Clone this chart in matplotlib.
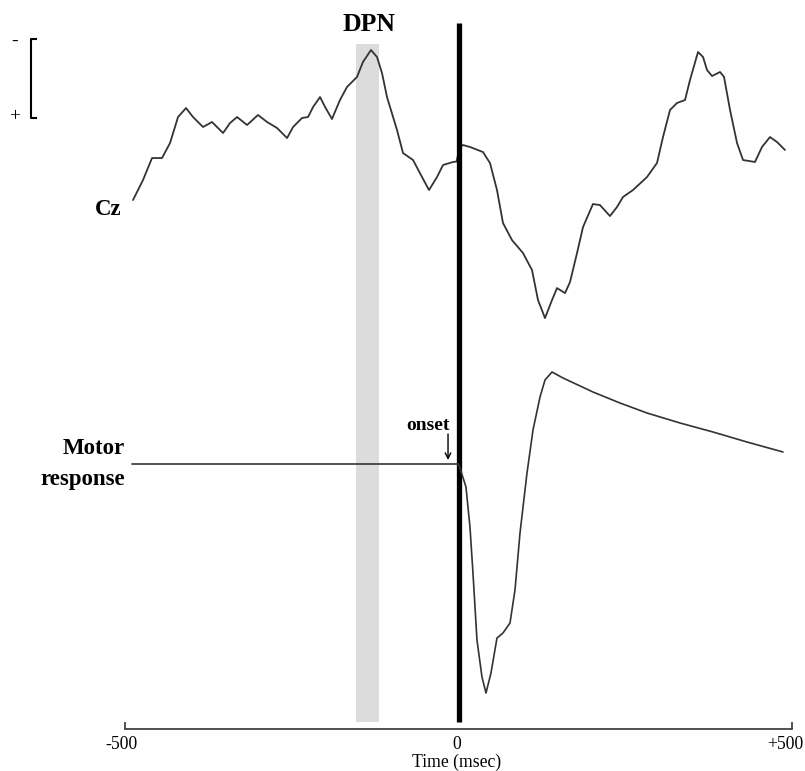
import matplotlib
matplotlib.use("Agg")
import matplotlib.pyplot as plt
from matplotlib.transforms import blended_transform_factory, ScaledTranslation

plt.rcParams['font.family'] = ['Liberation Serif', 'DejaVu Serif']

# ---- data ----
# Cz ERP: time (ms), amplitude (µV, negative plotted up)
cz_time = [-488, -473, -459.5, -444.5, -432.5, -420.5, -408.5, -398, -383, -369.6,
           -353, -342.6, -332, -317, -300.6, -287, -272, -257, -248, -234.6,
           -225.6, -218, -207.6, -200, -189.7, -177.7, -167.2, -152.2, -143.2, -131.2,
           -122.2, -114.7, -107.2, -92.2, -83.2, -68.2, -54.7, -44.2, -32.2, -23.2,
           -8.2, -3, 2, 6.7, 17.2, 36.7, 47.2, 57.7, 66.7, 80.2,
           96.7, 110.2, 119.2, 129.7, 140.2, 147.7, 159.7, 167.2, 177.7, 186.7,
           201.6, 212.1, 227.1, 237.6, 246.6, 261.6, 282.6, 297.6, 306.6, 317.1,
           327.6, 339.6, 347.1, 359.1, 366.6, 372.6, 380.1, 392.1, 398.1, 407.1,
           417.6, 426.6, 444.5, 455, 467, 477.5, 489.5]
cz_uv = [5.06, 2.53, -0.25, -0.25, -2.15, -5.44, -6.58, -5.44, -4.18, -4.81,
         -3.42, -4.68, -5.44, -4.43, -5.70, -4.81, -4.05, -2.78, -4.18, -5.32,
         -5.44, -6.71, -7.97, -6.71, -5.19, -7.59, -9.24, -10.51, -12.41, -13.92,
         -13.04, -11.01, -7.97, -3.80, -0.89, 0.0, 2.15, 3.80, 2.15, 0.63,
         0.25, 0.2, -1.6, -1.90, -1.65, -1.01, 0.38, 3.80, 7.97, 10.13,
         11.77, 13.92, 17.72, 20.0, 17.72, 16.20, 16.84, 15.44, 11.77, 8.48,
         5.57, 5.70, 7.09, 5.95, 4.68, 3.80, 2.15, 0.38, -2.91, -6.33,
         -7.22, -7.59, -10.13, -13.67, -13.04, -11.39, -10.63, -11.14, -10.51, -6.33,
         -2.15, 0.0, 0.25, -1.65, -2.91, -2.28, -1.27]

# Motor response (EMG, arbitrary units)
mr_time = [-489.5, 0, 2.2, 11.2, 17.2, 21.7, 27.7, 35.2, 41.2, 48.7,
           57.7, 66.7, 77.2, 84.7, 92.2, 102.7, 111.7, 122.2, 129.7, 140.2,
           156.7, 201.6, 242.1, 282.6, 332.1, 381.6, 432.5, 486.5]
mr_val = [0, 0, -0.4, -2.3, -6.3, -10.9, -17.6, -21.3, -22.9, -20.9,
          -17.4, -16.9, -15.9, -12.6, -6.9, -0.9, 3.4, 6.7, 8.4, 9.2,
          8.6, 7.2, 6.1, 5.1, 4.1, 3.2, 2.2, 1.2]

dpn_window = [-153.7, -119.2]
x_ticks = [-500, 0, 500]
x_ticklabels = ['-500', '0', '+500']
scale_bar_uv = [-15.3, -5.3]

# ---- figure ----
W, H = 805, 771
fig = plt.figure(figsize=(W / 100, H / 100), dpi=100)
ax = fig.add_axes([125 / W, 42 / H, 667 / W, 729 / H])
ax.set_xlim(-500, 500)
ax.set_ylim(72.0, -20.25)   # negative up
ax.patch.set_visible(False)
for s in ['top', 'left', 'right']:
    ax.spines[s].set_visible(False)
ax.spines['bottom'].set_color('#333333')
ax.spines['bottom'].set_linewidth(1.2)
ax.set_yticks([])
ax.set_xticks(x_ticks)
ax.set_xticklabels(x_ticklabels, fontsize=12.7)
ax.tick_params(axis='x', direction='in', length=5, width=1.2, color='#333333', pad=5)
ax.xaxis.get_major_ticks()[1].tick1line.set_visible(False)
labels = ax.get_xticklabels()
shifts = [-4, -2, -7]
for lab, dx in zip(labels, shifts):
    lab.set_transform(lab.get_transform() + ScaledTranslation(dx / 100, 0, fig.dpi_scale_trans))

bot = 7 / 729
ax.axvspan(dpn_window[0], dpn_window[1], ymin=bot, ymax=(729 - 44) / 729,
           color='#dcdcdc', lw=0, zorder=0)
ax.axvline(0, ymin=bot, ymax=(729 - 23) / 729, color='black', lw=3.8, zorder=5,
           solid_capstyle='butt')

ax.plot(cz_time, cz_uv, color='#333333', lw=1.3, zorder=3,
        solid_joinstyle='round', solid_capstyle='round')

ax2 = ax.twinx()
ax2.set_ylim(-26.5, 46.4)
ax2.axis('off')
ax2.plot(mr_time, mr_val, color='#333333', lw=1.2, zorder=3,
         solid_joinstyle='round', solid_capstyle='round')

# labels
bold = dict(fontweight='bold', color='black')
ax.text(-134.2, -17.1, 'DPN', fontsize=18.5, ha='center', va='center', **bold)
ax.text(-504.5, 6.2, 'Cz', fontsize=16.5, ha='right', va='center', clip_on=False, **bold)
ax2.text(-500, 1.5, 'Motor', fontsize=16.5, ha='right', va='center', clip_on=False, **bold)
ax2.text(-500, -1.5, 'response', fontsize=16.5, ha='right', va='center', clip_on=False, **bold)
ax2.text(-45.7, 3.9, 'onset', fontsize=14, ha='center', va='center', **bold)
ax2.annotate('', xy=(-15.7, 0.4), xytext=(-15.7, 3.0),
             arrowprops=dict(arrowstyle='->', color='black', lw=1.0,
                             mutation_scale=10, shrinkA=0, shrinkB=0))

# scale bracket
tr = blended_transform_factory(fig.transFigure, ax.transData)
xb, xt = 31 / W, 35.5 / W
ax.plot([xt, xb, xb, xt], [scale_bar_uv[0], scale_bar_uv[0], scale_bar_uv[1], scale_bar_uv[1]],
        transform=tr, color='black', lw=1.5, clip_on=False)
ax.text(15 / W, scale_bar_uv[0] + 0.3, '-', transform=tr, fontsize=14, ha='center', va='center')
ax.text(15 / W, scale_bar_uv[1] - 0.2, '+', transform=tr, fontsize=14, ha='center', va='center')

fig.text(457 / W, 1 - 762 / H, 'Time (msec)', fontsize=12.7, ha='center', va='center')

fig.savefig('out.png', dpi=100)
